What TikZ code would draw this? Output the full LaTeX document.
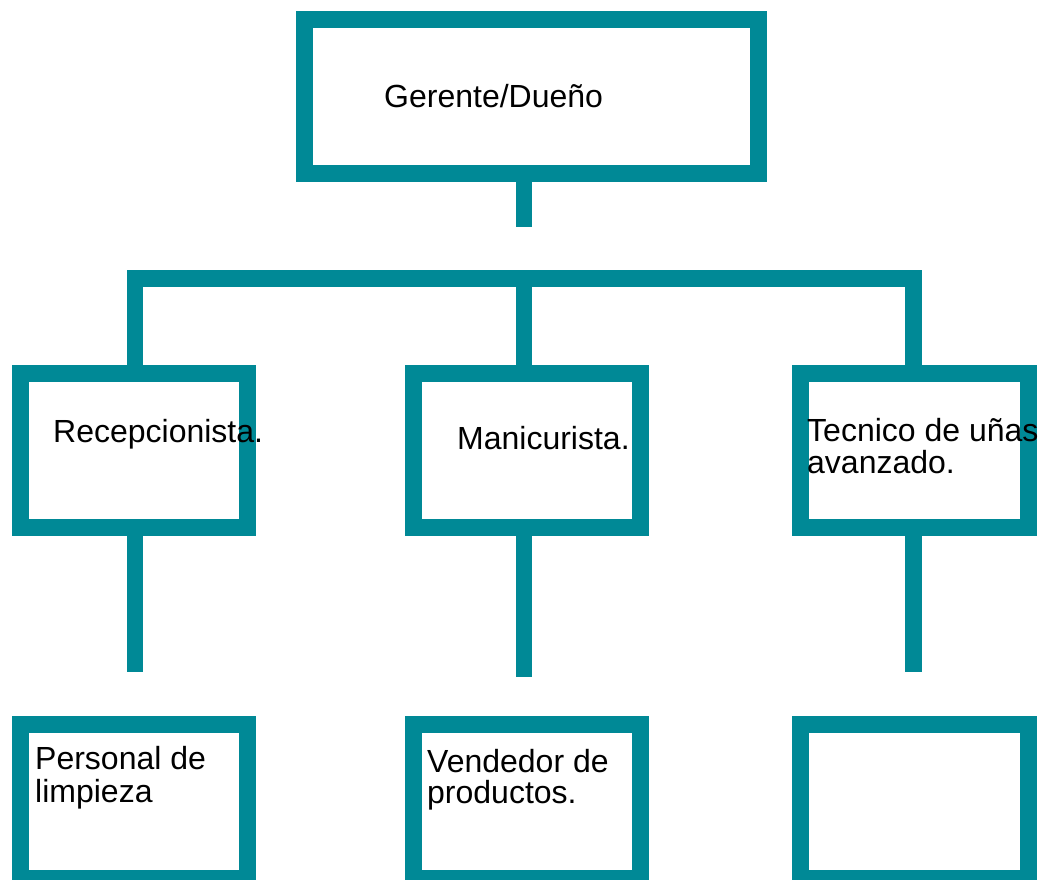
\documentclass[tikz,border=0pt]{standalone}
\usepackage{fontspec}
\setmainfont{Liberation Sans}
\definecolor{teal}{HTML}{008996}
\begin{document}
\begin{tikzpicture}[x=1pt,y=-1pt,
  box/.style={draw=teal,line width=17pt,fill=white,minimum width=#1,minimum height=154pt,inner sep=0pt,outer sep=0pt},
  box/.default=227pt,
  conn/.style={draw=teal,line width=16.5pt,line cap=butt,line join=miter},
  lbl/.style={anchor=base west,inner sep=0pt,font=\fontsize{32}{31}\selectfont}]
\useasboundingbox (0,0) rectangle (1045,879);
\clip (0,0) rectangle (1045,879);
% boxes
\node[box=454pt] (top) at (531.5,96.5) {};
\node[box] (rec) at (134,450.25) {};
\node[box] (man) at (527,450.25) {};
\node[box=228pt] (tec) at (914.5,450.25) {};
\node[box] (lim) at (134,801.25) {};
\node[box] (ven) at (527,801.25) {};
\node[box=228pt] (emp) at (914.5,801.25) {};
% connectors
\coordinate (topend) at (524,227);
\draw[conn] (top.south -| topend) -- (topend);
\draw[conn] (rec.north -| 135,0) -- (135,278.5) -- (913.5,278.5) -- (tec.north -| 913.5,0);
\draw[conn] (524,278.5) -- (man.north -| 524,0);
\coordinate (recend) at (135,672);
\coordinate (manend) at (524,677);
\coordinate (tecend) at (913.5,672);
\draw[conn] (rec.south -| recend) -- (recend);
\draw[conn] (man.south -| manend) -- (manend);
\draw[conn] (tec.south -| tecend) -- (tecend);
% texts
\node[lbl] (t1) at (384,107) {Gerente/Dueño};
\node[lbl] (t2) at (53,442) {Recepcionista.};
\node[lbl] (t3) at (457,449) {Manicurista.};
\node[lbl] (t4a) at (807,441) {Tecnico de uñas};
\node[lbl] (t4b) at (807,473) {avanzado.};
\node[lbl] (t5a) at (35,769) {Personal de};
\node[lbl] (t5b) at (35,802) {limpieza};
\node[lbl] (t6a) at (427,772) {Vendedor de};
\node[lbl] (t6b) at (427,803) {productos.};
\end{tikzpicture}
\end{document}
